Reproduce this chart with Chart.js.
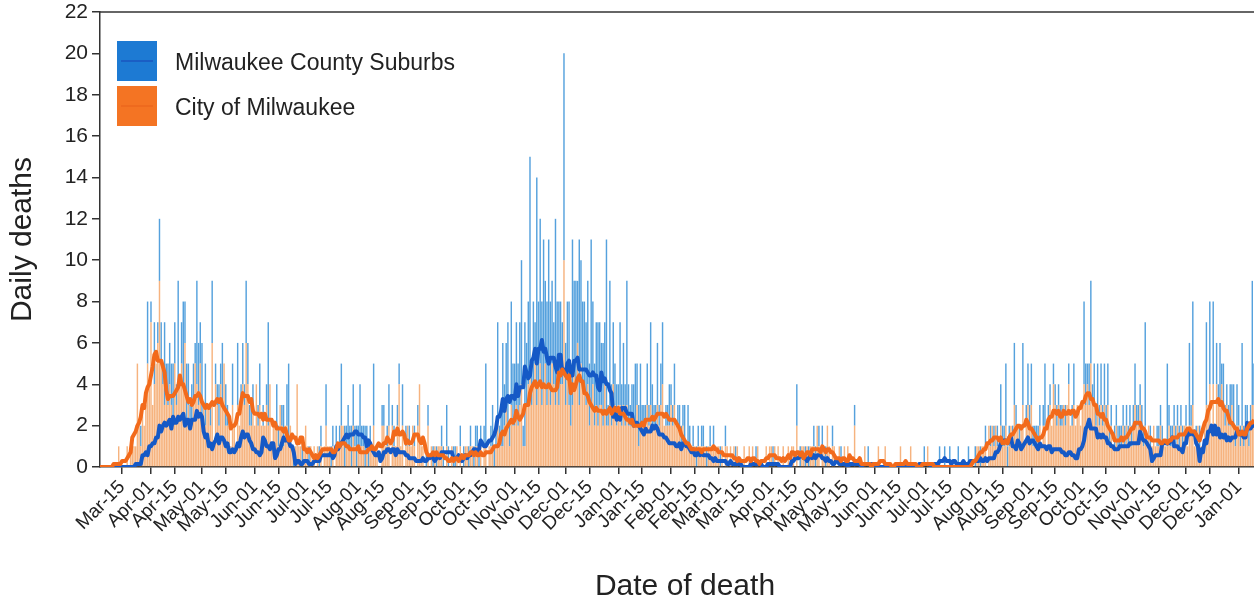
<!DOCTYPE html>
<html>
<head>
<meta charset="utf-8">
<script src="https://cdn.jsdelivr.net/npm/chart.js@4.4.0/dist/chart.umd.min.js"></script>
<style>
  html, body { margin: 0; padding: 0; background: #fff; }
  #wrap { width: 1254px; height: 602px; }
</style>
</head>
<body>
<div id="wrap"><canvas id="chart"></canvas></div>
<script>
// day 0 of both daily arrays
const startDate = '2020-03-01';
const seriesNames = ['Milwaukee County Suburbs', 'City of Milwaukee'];
const xTitle = 'Date of death';
const yTitle = 'Daily deaths';
const monthNames = ['Jan', 'Feb', 'Mar', 'Apr', 'May', 'Jun', 'Jul', 'Aug', 'Sep', 'Oct', 'Nov', 'Dec'];

const tickDates = [
  '2020-03-15', '2020-04-01', '2020-04-15', '2020-05-01', '2020-05-15', '2020-06-01', '2020-06-15',
  '2020-07-01', '2020-07-15', '2020-08-01', '2020-08-15', '2020-09-01', '2020-09-15', '2020-10-01',
  '2020-10-15', '2020-11-01', '2020-11-15', '2020-12-01', '2020-12-15', '2021-01-01', '2021-01-15',
  '2021-02-01', '2021-02-15', '2021-03-01', '2021-03-15', '2021-04-01', '2021-04-15', '2021-05-01',
  '2021-05-15', '2021-06-01', '2021-06-15', '2021-07-01', '2021-07-15', '2021-08-01', '2021-08-15',
  '2021-09-01', '2021-09-15', '2021-10-01', '2021-10-15', '2021-11-01', '2021-11-15', '2021-12-01',
  '2021-12-15', '2022-01-01'
];

// daily deaths, one row per week starting 2020-03-01
const cityDeaths = [
  0,0,0,0,0,0,0, 0,0,0,0,0,1,0, 0,0,0,1,0,1,1, 1,1,5,2,1,3,2,
  3,5,4,7,3,4,5, 6,9,5,4,3,4,3, 4,3,2,5,3,4,4, 5,4,6,2,3,2,2,
  3,5,4,3,5,2,3, 2,3,3,2,6,1,4, 3,2,4,3,5,2,2, 2,1,3,2,1,3,2,
  3,4,3,6,4,2,2, 3,2,4,2,3,2,2, 2,3,2,4,1,2,2, 2,1,3,2,1,2,2,
  1,2,1,0,1,4,1, 1,0,1,2,1,0,1, 0,1,0,1,0,1,0, 1,2,1,1,0,1,0,
  1,1,1,2,2,0,1, 1,1,0,2,1,0,1, 1,1,1,0,1,0,1, 1,2,1,1,0,0,2,
  2,1,1,2,0,2,1, 1,2,4,1,2,0,1, 2,1,1,2,1,0,2, 4,1,1,0,0,2,0,
  1,0,1,0,1,1,1, 0,0,1,0,0,1,0, 0,1,0,1,0,0,1, 1,0,1,1,0,1,1,
  0,1,0,1,1,0,1, 1,1,0,1,2,1,1, 1,2,3,2,1,3,2, 2,3,2,3,4,1,1,
  3,4,5,3,4,5,3, 4,5,3,4,5,3,4, 3,5,4,3,4,3,4, 4,10,3,5,3,2,3,
  5,4,6,3,5,4,4, 3,4,2,3,4,2,3, 2,3,3,2,4,2,2, 3,2,4,3,2,3,3,
  2,3,2,3,2,2,2, 2,2,3,1,2,2,2, 2,3,2,3,2,2,2, 3,2,3,4,2,2,2,
  2,3,2,3,2,2,2, 1,2,1,1,1,1,1, 1,1,0,1,1,1,1, 1,0,1,1,1,1,1,
  1,1,0,1,0,1,1, 0,1,0,1,0,1,0, 0,0,1,0,0,1,0, 1,0,0,1,0,0,0,
  0,1,0,1,1,0,1, 0,1,0,0,1,0,0, 1,0,1,1,0,2,0, 0,1,1,0,1,0,1,
  1,1,0,2,1,0,1, 1,0,2,1,0,1,1, 0,0,1,0,0,1,0, 1,0,0,0,2,0,0,
  0,0,0,1,0,0,0, 0,0,0,0,1,0,0, 0,1,0,0,0,0,0, 0,0,0,1,0,0,0,
  0,0,1,0,0,0,0, 0,0,0,0,0,1,0, 0,0,0,0,0,0,0, 0,0,0,0,0,0,0,
  0,0,0,0,0,0,0, 0,0,0,0,0,0,1, 1,0,1,1,1,0,2, 1,2,1,2,1,1,2,
  1,1,2,0,1,2,1, 3,2,2,1,2,3,1, 2,3,2,3,1,1,1, 1,2,1,2,2,1,2,
  3,2,4,3,2,3,2, 2,3,2,3,4,2,2, 3,2,3,3,2,3,4, 3,4,3,5,3,3,2,
  3,2,3,2,3,2,3, 1,2,1,1,2,1,1, 1,2,1,2,1,2,1, 2,3,2,2,3,2,1,
  2,1,2,1,1,2,1, 1,1,2,1,1,1,1, 2,1,1,2,1,2,1, 2,1,2,2,1,2,2,
  3,1,1,2,1,1,1, 2,3,3,4,2,4,2, 4,3,3,4,3,2,3, 2,2,3,2,1,2,2,
  1,2,1,2,2,1,2, 3,3,2,2,3,2,2
];

const suburbDeaths = [
  0,0,0,0,0,0,0, 0,0,0,0,0,0,0, 0,0,0,0,0,0,0, 0,0,0,0,1,0,0,
  0,3,0,1,0,3,0, 1,3,2,1,4,1,2, 2,2,3,2,1,5,0, 2,4,2,3,2,1,2,
  2,1,5,3,2,4,0, 3,0,0,1,3,0,1, 1,2,1,3,0,2,1, 0,0,2,0,0,3,0,
  1,2,1,3,2,1,1, 1,0,0,1,2,0,1, 0,1,5,0,0,0,0, 2,1,0,1,2,0,2,
  4,0,0,1,0,0,0, 0,1,0,0,0,1,0, 0,0,0,0,1,1,0, 0,2,0,0,1,1,0,
  1,0,1,3,0,2,1, 2,1,2,2,1,2,1, 3,1,1,2,1,1,1, 0,3,0,0,0,0,1,
  1,0,1,2,0,1,1, 0,1,1,0,2,0,1, 0,1,0,0,1,0,1, 0,0,0,0,1,1,0,
  0,1,0,1,0,0,1, 1,0,2,1,0,0,1, 1,0,0,1,0,1,0, 0,1,1,0,1,1,1,
  1,1,0,1,4,0,0, 1,2,1,1,5,1,2, 5,2,3,5,1,5,3, 3,4,3,4,6,1,6,
  3,4,10,2,4,2,11, 4,7,5,7,4,5,7, 5,4,3,9,4,5,4, 3,10,3,3,5,3,8,
  4,5,3,8,5,4,4, 4,5,3,8,4,3,4, 5,4,3,4,3,9,1, 6,2,3,2,2,1,4,
  2,3,2,6,2,1,2, 2,3,2,2,3,1,1, 1,2,1,4,2,1,1, 3,1,2,3,0,1,1,
  2,1,1,2,0,1,1, 1,1,2,0,2,1,0, 1,0,1,1,0,1,1, 0,1,0,1,0,1,0,
  0,0,1,0,0,1,0, 0,0,0,0,1,0,0, 0,0,0,0,0,0,0, 0,0,1,0,0,0,0,
  0,0,0,0,0,1,0, 0,0,0,0,0,0,0, 0,0,0,0,0,2,0, 1,0,0,1,0,1,0,
  0,1,1,0,1,0,1, 0,1,0,0,0,1,0, 0,0,0,1,0,0,0, 0,0,0,0,1,0,0,
  0,0,0,0,0,1,0, 0,0,0,0,0,0,0, 0,0,0,0,0,0,0, 0,0,0,0,0,0,0,
  0,0,0,0,0,0,0, 0,0,0,1,0,0,0, 0,0,0,0,0,1,0, 0,1,0,0,1,0,0,
  0,0,1,0,0,0,0, 0,1,0,0,0,1,0, 0,1,0,0,1,0,0, 1,0,1,0,1,0,2,
  1,1,3,1,1,0,1, 3,1,0,1,0,3,0, 1,2,1,2,1,1,1, 1,1,0,1,3,0,1,
  1,0,1,1,1,1,1, 1,0,1,0,1,0,1, 2,0,0,0,0,0,4, 2,1,2,4,1,2,1,
  2,1,2,1,2,1,2, 1,1,0,1,1,1,1, 1,1,1,1,1,1,1, 1,2,1,1,1,1,1,
  5,0,0,1,0,0,0, 1,1,1,1,0,0,4, 1,1,1,1,1,1,1, 1,1,0,1,0,4,1,
  5,0,1,0,1,0,0, 0,4,0,4,0,4,0, 2,1,3,1,2,1,1, 1,2,1,2,1,2,1,
  1,4,1,1,1,1,1, 6,2,1,2,1,1,1
];

const FONT = 'Arial, "Liberation Sans", Helvetica, sans-serif';
Chart.defaults.font.family = FONT;
Chart.defaults.color = '#222';

function dayOf(s) {
  const [y, m, d] = s.split('-').map(Number);
  const [y0, m0, d0] = startDate.split('-').map(Number);
  return Math.round((Date.UTC(y, m - 1, d) - Date.UTC(y0, m0 - 1, d0)) / 86400000);
}

const tickDays = tickDates.map(dayOf);
const tickLabelOf = {};
tickDates.forEach((s, i) => {
  const [, m, d] = s.split('-');
  tickLabelOf[tickDays[i]] = monthNames[Number(m) - 1] + '-' + d;
});

// centred 7-day average, as drawn in the original
function rolling7(arr) {
  return arr.map((_, i) => {
    const lo = Math.max(0, i - 3), hi = Math.min(arr.length - 1, i + 3);
    let s = 0;
    for (let j = lo; j <= hi; j++) s += arr[j];
    return s / (hi - lo + 1);
  });
}

const toPoints = arr => arr.map((v, i) => ({ x: i, y: v }));

const frame = {
  id: 'frame',
  afterDraw(chart) {
    const { ctx, chartArea: a } = chart;
    ctx.save();
    ctx.strokeStyle = '#333';
    ctx.lineWidth = 1.5;
    ctx.beginPath();
    ctx.moveTo(a.left, a.top);
    ctx.lineTo(chart.width, a.top);
    ctx.stroke();

    // x title sits a little right of the plot centre in the original
    ctx.fillStyle = '#222';
    ctx.font = '30px ' + FONT;
    ctx.textAlign = 'center';
    ctx.textBaseline = 'middle';
    ctx.fillText(xTitle, (a.left + a.right) / 2 + 8, chart.height - 15);

    // legend patches
    const items = [
      { name: seriesNames[0], fill: '#1d7ad3', line: '#1a5ec4' },
      { name: seriesNames[1], fill: '#f47423', line: '#ee6a1e' }
    ];
    ctx.textAlign = 'left';
    items.forEach((it, i) => {
      const x = a.left + 17, y = a.top + 29 + i * 45;
      ctx.fillStyle = it.fill;
      ctx.fillRect(x, y, 40, 40);
      ctx.strokeStyle = it.line;
      ctx.lineWidth = 2;
      ctx.beginPath();
      ctx.moveTo(x + 4, y + 20);
      ctx.lineTo(x + 36, y + 20);
      ctx.stroke();
      ctx.fillStyle = '#222';
      ctx.font = '23px ' + FONT;
      ctx.fillText(it.name, x + 58, y + 23);
    });
    ctx.restore();
  }
};

new Chart(document.getElementById('chart'), {
  type: 'bar',
  data: {
    datasets: [
      {
        type: 'bar', label: seriesNames[1], data: toPoints(cityDeaths), stack: 'daily',
        backgroundColor: 'rgba(244,160,95,0.8)', borderWidth: 0,
        barPercentage: 1, categoryPercentage: 0.85, order: 3
      },
      {
        type: 'bar', label: seriesNames[0], data: toPoints(suburbDeaths), stack: 'daily',
        backgroundColor: 'rgba(55,145,215,0.85)', borderWidth: 0,
        barPercentage: 1, categoryPercentage: 0.85, order: 3
      },
      {
        type: 'line', label: seriesNames[0] + ' 7-day', data: toPoints(rolling7(suburbDeaths)), stack: 'avgS',
        borderColor: '#1559c6', borderWidth: 4, pointRadius: 0, fill: false, order: 2,
        borderJoinStyle: 'round'
      },
      {
        type: 'line', label: seriesNames[1] + ' 7-day', data: toPoints(rolling7(cityDeaths)), stack: 'avgC',
        borderColor: '#f26a1b', borderWidth: 4, pointRadius: 0, fill: false, order: 1,
        borderJoinStyle: 'round'
      }
    ]
  },
  options: {
    responsive: true,
    maintainAspectRatio: false,
    animation: false,
    layout: { padding: { top: 12, left: 0, right: 0, bottom: 0 } },
    plugins: {
      legend: { display: false },
      tooltip: { enabled: false }
    },
    scales: {
      x: {
        type: 'linear',
        min: 1,
        max: 680,
        offset: false,
        stacked: true,
        afterBuildTicks: scale => { scale.ticks = tickDays.map(v => ({ value: v })); },
        afterFit: scale => {
          scale.height = 135;
          scale.paddingLeft = 0;
          scale.paddingRight = 0;
        },
        ticks: {
          autoSkip: false,
          minRotation: 45,
          maxRotation: 45,
          padding: 2,
          color: '#222',
          font: { size: 19 },
          callback: v => tickLabelOf[v] || ''
        },
        grid: { offset: false, drawOnChartArea: false, drawTicks: true, tickLength: 7, color: '#333', lineWidth: 1.5 },
        border: { display: true, color: '#333', width: 1.5 },
        title: { display: false }
      },
      y: {
        min: 0,
        max: 22,
        stacked: true,
        afterFit: scale => {
          scale.width = 100;
          scale.paddingTop = 0;
          scale.paddingBottom = 0;
        },
        ticks: { stepSize: 2, padding: 4, color: '#222', font: { size: 21 } },
        grid: { drawOnChartArea: false, drawTicks: true, tickLength: 8, color: '#333', lineWidth: 1.5 },
        border: { display: true, color: '#333', width: 1.5 },
        title: { display: true, text: yTitle, color: '#222', font: { size: 30, lineHeight: 1 }, padding: { top: 8, bottom: 0 } }
      }
    }
  },
  plugins: [frame]
});
</script>
</body>
</html>
